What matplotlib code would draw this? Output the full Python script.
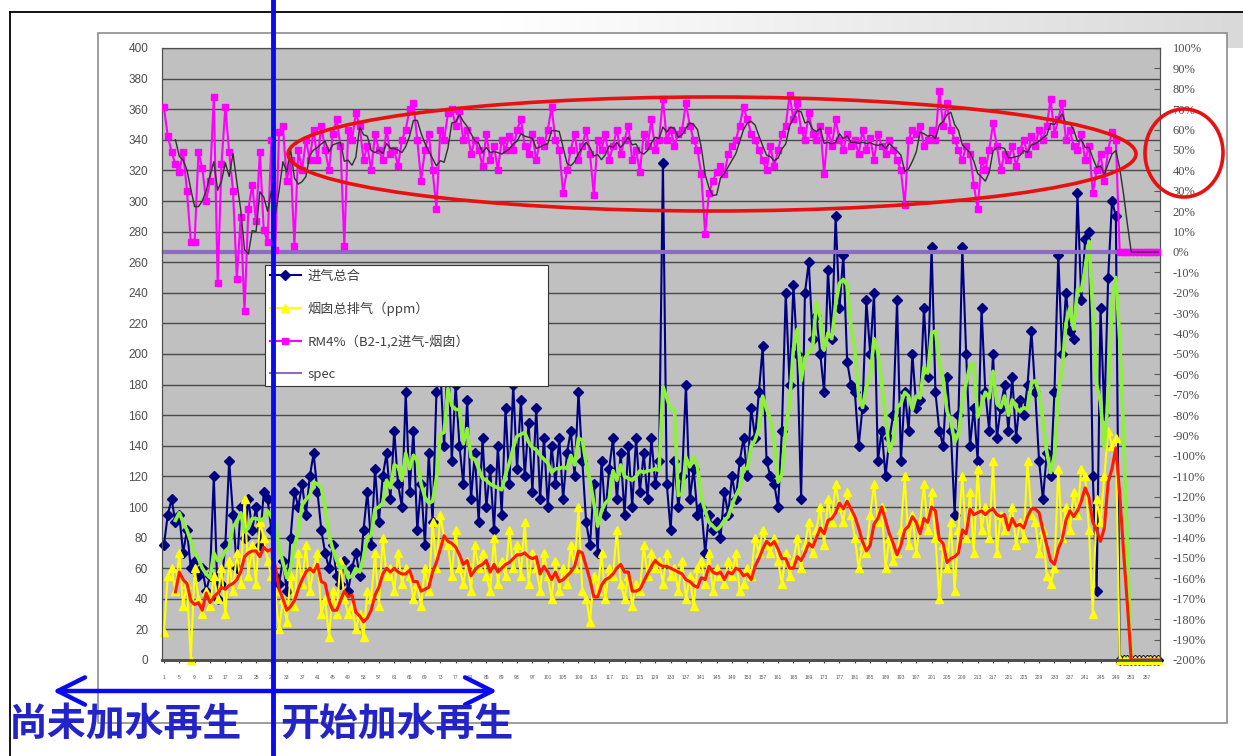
import matplotlib
matplotlib.use("Agg")
import matplotlib.pyplot as plt
import numpy as np
import pandas as pd
from matplotlib.patches import Ellipse, Rectangle, FancyArrowPatch
from matplotlib.lines import Line2D
from matplotlib.colors import LinearSegmentedColormap

plt.rcParams['font.family'] = ['Noto Sans CJK SC', 'DejaVu Sans']

# 进气总合 (left axis, ppm)
intake_total = [
    75, 95, 105, 90, 95, 70, 85, 60, 65, 55,
    60, 45, 55, 120, 40, 50, 75, 130, 95, 60,
    100, 80, 105, 85, 100, 75, 110, 105, 85, 55,
    50, 65, 45, 80, 110, 100, 115, 95, 120, 135,
    110, 85, 70, 60, 75, 55, 50, 65, 45, 60,
    70, 55, 85, 110, 75, 125, 90, 120, 135, 105,
    150, 115, 100, 175, 110, 150, 85, 115, 75, 135,
    90, 175, 190, 140, 205, 130, 180, 140, 115, 170,
    105, 135, 90, 145, 100, 125, 85, 140, 95, 165,
    115, 180, 125, 170, 120, 155, 110, 165, 105, 145,
    100, 140, 115, 145, 105, 135, 150, 120, 175, 130,
    90, 75, 115, 70, 130, 95, 125, 145, 105, 135,
    95, 140, 100, 145, 110, 135, 105, 145, 115, 130,
    325, 115, 85, 130, 100, 120, 180, 105, 125, 95,
    100, 70, 95, 85, 90, 80, 110, 95, 120, 105,
    130, 145, 120, 165, 145, 175, 205, 130, 120, 115,
    100, 150, 240, 180, 245, 200, 105, 240, 260, 210,
    225, 200, 175, 255, 210, 290, 230, 265, 195, 180,
    175, 140, 165, 235, 200, 240, 130, 150, 120, 145,
    160, 235, 130, 175, 150, 200, 165, 170, 230, 185,
    270, 175, 150, 140, 185, 150, 95, 160, 270, 200,
    140, 165, 130, 230, 175, 150, 200, 145, 165, 180,
    150, 185, 145, 170, 160, 180, 215, 175, 130, 105,
    135, 120, 175, 265, 200, 240, 215, 210, 305, 235,
    275, 280, 120, 45, 230, 160, 250, 300, 290, 0,
    0, 0, 0, 0, 0, 0, 0, 0, 0, 0,
]

# 烟囱总排气 (ppm, left axis)
stack_exhaust = [
    18, 55, 60, 45, 70, 35, 50, 0, 60, 40,
    30, 45, 35, 55, 40, 60, 30, 65, 45, 70,
    50, 105, 55, 75, 50, 90, 80, 65, 55, 45,
    20, 40, 25, 55, 35, 70, 50, 75, 45, 60,
    70, 30, 40, 15, 45, 30, 65, 40, 30, 35,
    20, 30, 15, 45, 40, 70, 35, 80, 55, 60,
    45, 70, 50, 60, 55, 40, 50, 35, 60, 45,
    90, 60, 95, 80, 75, 55, 85, 60, 50, 65,
    45, 75, 60, 70, 55, 45, 80, 50, 65, 55,
    85, 60, 75, 55, 90, 50, 70, 60, 45, 70,
    55, 40, 65, 45, 60, 50, 75, 60, 100, 45,
    40, 25, 55, 45, 70, 40, 60, 55, 85, 50,
    40, 55, 35, 50, 45, 75, 55, 70, 60, 65,
    50, 70, 55, 60, 45, 65, 40, 55, 35, 60,
    65, 50, 70, 45, 60, 55, 50, 65, 55, 70,
    45, 50, 60, 55, 80, 70, 85, 75, 70, 80,
    65, 50, 70, 55, 65, 80, 60, 75, 90, 70,
    85, 100, 75, 105, 90, 115, 100, 90, 110, 95,
    80, 60, 75, 70, 95, 115, 90, 100, 60, 80,
    65, 70, 85, 120, 75, 95, 70, 90, 115, 85,
    110, 80, 40, 75, 60, 90, 45, 85, 120, 80,
    110, 70, 125, 85, 100, 80, 130, 70, 95, 85,
    90, 100, 75, 90, 80, 130, 95, 90, 70, 85,
    55, 50, 60, 125, 80, 100, 85, 110, 95, 125,
    120, 85, 30, 105, 90, 120, 150, 140, 145, 0,
    0, 0, 0, 0, 0, 0, 0, 0, 0, 0,
]

# RM4% (B2-1,2 进气-烟囱), right axis in %
rm_pct = [
    71, 57, 49, 43, 39, 49, 30, 5, 5, 49,
    41, 25, 35, 76, -15, 43, 71, 49, 30, -13,
    17, -29, 21, 33, 15, 49, 11, 5, 55, 1,
    59, 62, 35, 45, 3, 50, 40, 55, 45, 60,
    45, 62, 50, 40, 58, 65, 52, 3, 60, 55,
    68, 62, 45, 52, 40, 58, 50, 45, 60, 48,
    50, 42, 55, 60, 70, 73, 55, 35, 50, 58,
    40, 21, 60, 55, 68, 70, 62, 69, 55, 60,
    48, 55, 50, 42, 58, 45, 52, 40, 55, 50,
    57, 50, 60, 65, 52, 48, 58, 45, 55, 52,
    60, 71, 55, 50, 29, 40, 50, 58, 45, 52,
    60, 48, 28, 55, 50, 58, 45, 52, 60, 48,
    55, 62, 45, 50, 39, 58, 52, 65, 50, 55,
    75, 55, 60, 52, 58, 60, 73, 62, 55, 50,
    38, 9, 29, 35, 39, 42, 38, 48, 52, 55,
    62, 71, 65, 58, 55, 50, 45, 40, 52, 42,
    50, 58, 62, 77, 65, 73, 60, 55, 68, 58,
    55, 62, 38, 60, 52, 65, 55, 50, 58, 52,
    55, 48, 60, 50, 56, 45, 58, 52, 48, 55,
    50, 45, 40, 23, 55, 60, 58, 62, 52, 55,
    60, 55, 79, 62, 73, 60, 55, 50, 45, 52,
    48, 33, 21, 45, 40, 50, 63, 52, 40, 48,
    45, 52, 42, 50, 55, 48, 57, 52, 60, 55,
    62, 75, 58, 65, 73, 55, 60, 52, 50, 58,
    45, 52, 29, 40, 48, 35, 50, 59, 55, 0,
    0, 0, 0, 0, 0, 0, 0, 0, 0, 0,
]

spec_pct = [0] * len(rm_pct)

legend_labels = ["进气总合", "烟囱总排气（ppm）", "RM4%（B2-1,2进气-烟囱）", "spec"]
left_ticks = list(range(0, 401, 20))
right_ticks = list(range(-200, 101, 10))

W, H = 1243, 756
N = len(intake_total)
x = np.arange(N)

fig = plt.figure(figsize=(W / 100, H / 100), dpi=100)

# slide background + chart frame
bg = fig.add_axes([0, 0, 1, 1])
bg.set_zorder(0)
grad = np.linspace(0, 1, 256).reshape(1, -1)
bg.imshow(grad, extent=(500, W, 48, 13), aspect='auto',
          cmap=LinearSegmentedColormap.from_list('g', ['#ffffff', '#d9d9d9']))
bg.add_patch(Rectangle((98, 33), 1129, 690, facecolor='white', edgecolor='#8c8c8c', lw=1.2))
bg.plot([10, W], [12, 12], color='black', lw=1.3)
bg.plot([10, 10], [12, H], color='black', lw=1.3)
bg.set_xlim(0, W)
bg.set_ylim(H, 0)
bg.axis('off')

# main plot
ax = fig.add_axes([162 / W, 1 - 660 / H, 998 / W, 612 / H])
ax.set_zorder(1)
ax.set_facecolor('#C0C0C0')
ax.plot(x, intake_total, color='#000080', lw=1.5, marker='D', ms=4.6, zorder=3, clip_on=False)
ax.plot(x, stack_exhaust, color='#FFFF00', lw=1.5, marker='^', ms=5.4, zorder=3, clip_on=False)
# moving-average trendlines (period 4), as in the Excel chart
ax.plot(x, pd.Series(intake_total).rolling(4).mean(), color='#8CF03C', lw=2.6, zorder=4)
ax.plot(x, pd.Series(stack_exhaust).rolling(4).mean(), color='#FF1A00', lw=2.2, zorder=4)
ax.set_xlim(-0.5, N - 0.5)
ax.set_ylim(0, 400)
ax.set_yticks(left_ticks, [str(t) for t in left_ticks], fontfamily='Liberation Sans',
              fontsize=8.5, color='#4d4d4d')
ax.yaxis.grid(True, color='#4a4a4a', lw=1)
ax.set_axisbelow(True)
xt = list(range(0, N, 4))
ax.set_xticks(xt, [str(i + 1) for i in xt], fontfamily='Liberation Sans', fontsize=3.6, color='#5a5a5a')
ax.tick_params(axis='y', length=0, pad=10)
ax.tick_params(axis='x', length=2, pad=9, color='#404040')
for s in ax.spines.values():
    s.set_color('#505050')
ax.spines['bottom'].set_linewidth(2)

ax2 = ax.twinx()
ax2.set_zorder(2)
ax2.patch.set_visible(False)
ax2.plot(x, spec_pct, color='#8B6CC0', lw=3, solid_capstyle='projecting', zorder=2, clip_on=False)
ax2.plot(x, rm_pct, color='#FF00FF', lw=1.5, marker='s', ms=4.2, zorder=3)
ax2.plot(x, pd.Series(rm_pct).rolling(4).mean(), color='#303030', lw=1, zorder=4)
ax2.set_ylim(-200, 100)
ax2.set_yticks(right_ticks, [f"{t}%" for t in right_ticks], fontfamily='Liberation Serif',
               fontsize=9, color='#4d4d4d')
ax2.tick_params(axis='y', direction='in', length=4, pad=9, color='#555555')
for s in ax2.spines.values():
    s.set_color('#505050')
ax2.spines['bottom'].set_linewidth(2)

handles = [
    Line2D([], [], color='#000080', lw=1.5, marker='D', ms=4.6),
    Line2D([], [], color='#FFFF00', lw=1.5, marker='^', ms=5.4),
    Line2D([], [], color='#FF00FF', lw=1.5, marker='s', ms=4.2),
    Line2D([], [], color='#8B6CC0', lw=1.5),
]
leg = ax2.legend(handles, legend_labels, loc='upper left',
                 bbox_to_anchor=(265 / W, 1 - 387 / H, 283 / W, 122 / H),
                 bbox_transform=fig.transFigure, mode='expand', fontsize=9.5,
                 frameon=True, fancybox=False, edgecolor='#333333', framealpha=1,
                 borderpad=0.35, labelspacing=1.45, handlelength=2.4, handletextpad=0.5,
                 borderaxespad=0)
leg.get_frame().set_linewidth(0.8)
for t in leg.get_texts():
    t.set_color('#404040')

# annotations drawn over the chart
ov = fig.add_axes([0, 0, 1, 1])
ov.set_zorder(5)
ov.patch.set_visible(False)
ov.set_xlim(0, W)
ov.set_ylim(H, 0)
ov.axis('off')
ov.add_patch(Ellipse((712, 154), 848, 114, fill=False, ec='#E81010', lw=2.6))
ov.add_patch(Ellipse((1184, 153), 78, 88, fill=False, ec='#E81010', lw=2.6))
ov.plot([273, 273], [0, H], color='#0A0AF0', lw=3.5)
ov.add_patch(FancyArrowPatch((50, 691), (500, 691), arrowstyle='<->,head_length=1.4,head_width=0.7',
                             mutation_scale=14, color='#0A0AF0', lw=3.2))
ov.text(8, 724, "尚未加水再生", fontsize=28, color='#2323C8', fontweight='bold', va='center', ha='left')
ov.text(280, 724, "开始加水再生", fontsize=28, color='#2323C8', fontweight='bold', va='center', ha='left')

fig.savefig("out.png", dpi=100)
